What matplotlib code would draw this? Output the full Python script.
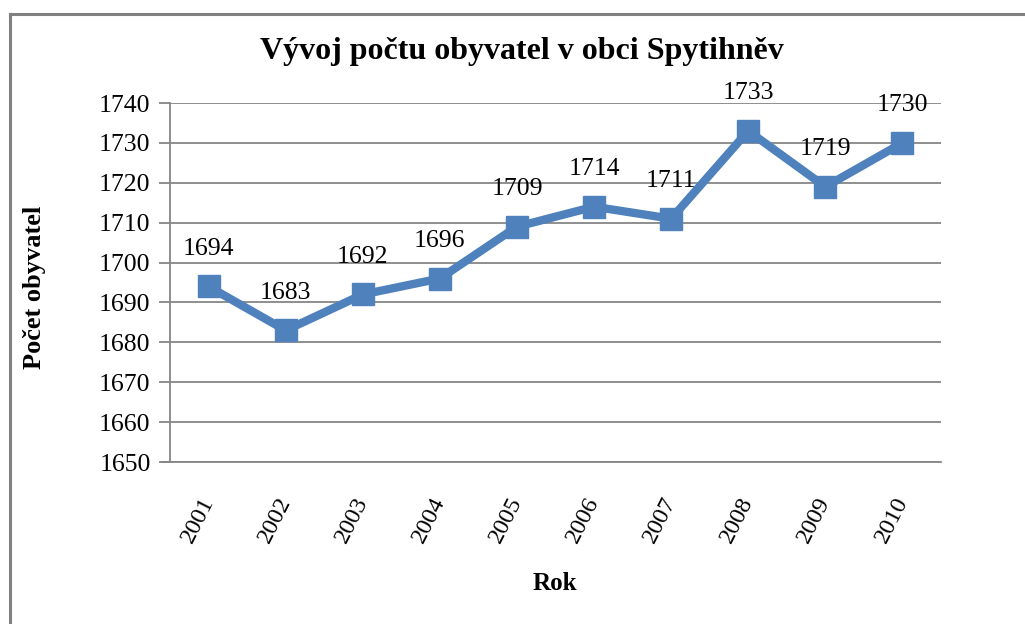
import matplotlib.pyplot as plt
from matplotlib.lines import Line2D

# data
roky = ['2001', '2002', '2003', '2004', '2005', '2006', '2007', '2008', '2009', '2010']
obyvatele = [1694, 1683, 1692, 1696, 1709, 1714, 1711, 1733, 1719, 1730]
y_ticks = [1650, 1660, 1670, 1680, 1690, 1700, 1710, 1720, 1730, 1740]

plt.rcParams['font.family'] = ['Liberation Serif', 'DejaVu Serif']

fig = plt.figure(figsize=(10.25, 6.24), dpi=100)
W, H = 1025, 624
ax = fig.add_axes([170 / W, (H - 462) / H, 771 / W, 359 / H])

x = list(range(len(roky)))
ax.plot(x, obyvatele, color='#4F81BD', linewidth=6, marker='s',
        markersize=15.5, solid_joinstyle='miter', zorder=3)

# popisky hodnot nad body
for xi, v in zip(x, obyvatele):
    ax.annotate(str(v), (xi, v), xytext=(0, 27), textcoords='offset points',
                ha='center', va='center', fontsize=18.5, color='black')

ax.set_xlim(-0.5, len(roky) - 0.5)
ax.set_ylim(1650, 1740)
ax.set_yticks(y_ticks)
ax.set_xticks(x)
ax.set_xticklabels(roky, rotation=63, ha='right', va='center',
                   rotation_mode='anchor', fontsize=17.5)
ax.tick_params(axis='x', length=0, pad=26)
ax.tick_params(axis='y', length=8, width=1.3, color='#868686', labelsize=18.5, pad=6)

ax.yaxis.grid(True, color='#868686', linewidth=1.3)
ax.set_axisbelow(True)
for s in ['top', 'right']:
    ax.spines[s].set_visible(False)
for s in ['left', 'bottom']:
    ax.spines[s].set_color('#868686')
    ax.spines[s].set_linewidth(1.3)
ax.spines['bottom'].set_visible(False)
ax.axhline(1650, xmin=-8 / 771, xmax=1, color='#868686', linewidth=1.3, clip_on=False)

fig.text(522 / W, 1 - 52 / H, 'Vývoj počtu obyvatel v obci Spytihněv',
         ha='center', va='center', fontsize=23, fontweight='bold')
fig.text(35 / W, 1 - 287 / H, 'Počet obyvatel', rotation=90,
         ha='center', va='center', fontsize=19, fontweight='bold')
fig.text(555 / W, 1 - 583 / H, 'Rok', ha='center', va='center',
         fontsize=18, fontweight='bold')

# ramecek grafu (horni a leva strana)
fig.add_artist(Line2D([9.5 / W, 1], [1 - 14 / H, 1 - 14 / H], transform=fig.transFigure,
                      color='#808080', linewidth=2.2))
fig.add_artist(Line2D([9.5 / W, 9.5 / W], [0, 1 - 14 / H], transform=fig.transFigure,
                      color='#808080', linewidth=2.2))

fig.savefig('out.png', dpi=100)
